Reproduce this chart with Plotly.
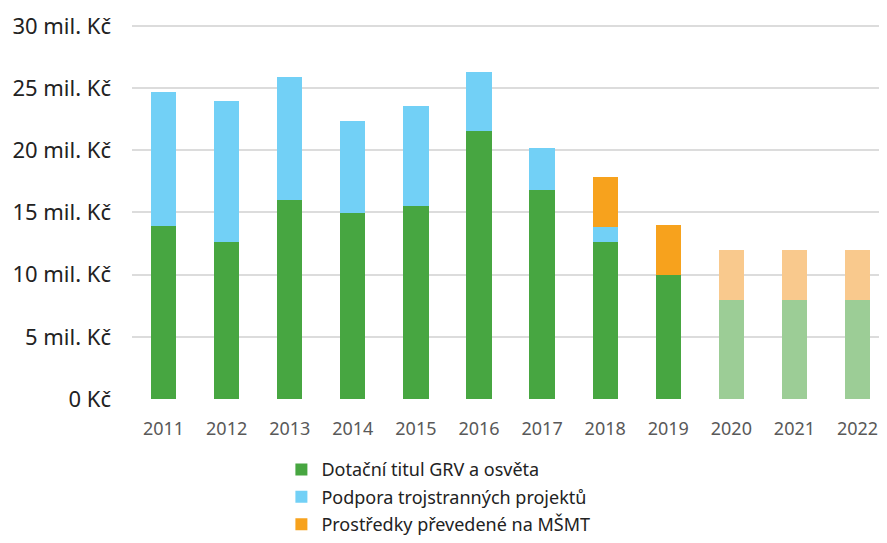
import plotly.graph_objects as go

years = ["2011", "2012", "2013", "2014", "2015", "2016", "2017", "2018", "2019", "2020", "2021", "2022"]
grv = [13.92, 12.66, 16.0, 14.94, 15.53, 21.56, 16.77, 12.66, 9.95, 8.0, 8.0, 8.0]
trojstranne = [10.75, 11.29, 9.88, 7.43, 8.04, 4.72, 3.4, 1.15, 0, 0, 0, 0]
msmt = [0, 0, 0, 0, 0, 0, 0, 4.03, 4.02, 4.0, 4.0, 4.0]
planned = [False] * 9 + [True] * 3

ytick_vals = [0, 5, 10, 15, 20, 25, 30]
ytick_text = ["0 Kč", "5 mil. Kč", "10 mil. Kč", "15 mil. Kč", "20 mil. Kč", "25 mil. Kč", "30 mil. Kč"]

names = ["Dotační titul GRV a osvěta", "Podpora trojstranných projektů", "Prostředky převedené na MŠMT"]
full = ["#47A641", "#72D0F6", "#F7A21D"]
faded = ["#9CCD96", "#B5E5F9", "#F9C98D"]

fig = go.Figure()
for i, (vals, name, c, fc) in enumerate(zip([grv, trojstranne, msmt], names, full, faded)):
    colors = [fc if p else c for p in planned]
    fig.add_trace(go.Bar(x=years, y=vals, name=name, legendgroup=f"g{i}",
                         marker=dict(color=colors, line=dict(width=0)), width=0.4))

fig.update_layout(
    barmode="stack",
    width=871, height=527,
    margin=dict(l=124, r=0, t=15, b=136, autoexpand=False),
    plot_bgcolor="white", paper_bgcolor="white",
    font=dict(family="Noto Sans", color="#222222"),
    xaxis=dict(range=[-0.5, 11.34], showgrid=False, showline=False, ticks="",
               tickfont=dict(size=18, color="#595959"), ticklabelstandoff=17, automargin=False),
    yaxis=dict(range=[0, 30.24], tickvals=ytick_vals, ticktext=ytick_text,
               gridcolor="#DCDCDC", gridwidth=2, zeroline=False, showline=False,
               tickfont=dict(size=22, color="#222222"), ticklabelstandoff=20, automargin=False),
    legend=dict(x=0.2, y=-0.139, xanchor="left", yanchor="top", orientation="v",
                font=dict(size=18, color="#222222"), traceorder="grouped",
                tracegroupgap=1, itemwidth=30),
    showlegend=True,
)

fig.write_html("out.html")
